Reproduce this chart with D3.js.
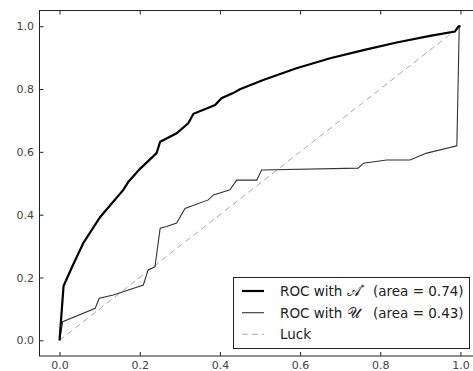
<!DOCTYPE html>
<html>
<head>
<meta charset="utf-8">
<script src="https://cdn.jsdelivr.net/npm/d3@7/dist/d3.min.js"></script>
<style>
  html, body { margin: 0; padding: 0; background: #fff; }
  svg { display: block; }
  .tick text { font-family: "DejaVu Sans", sans-serif; font-size: 11px; fill: #444; }
</style>
</head>
<body>
<script>
// ROC curve for the A* scores (false positive rate / true positive rate)
const fprA = [0, 0.01, 0.03, 0.059, 0.101, 0.159, 0.172, 0.2, 0.242, 0.251, 0.292, 0.321, 0.334, 0.388, 0.404, 0.433, 0.45, 0.508, 0.591, 0.675, 0.758, 0.841, 0.924, 0.986, 0.995, 1];
const tprA = [0, 0.173, 0.23, 0.309, 0.392, 0.479, 0.505, 0.545, 0.596, 0.632, 0.659, 0.691, 0.721, 0.749, 0.771, 0.787, 0.799, 0.829, 0.866, 0.898, 0.924, 0.948, 0.969, 0.983, 0.999, 1];

// ROC curve for the U scores
const fprU = [0, 0.008, 0.089, 0.099, 0.134, 0.209, 0.221, 0.238, 0.251, 0.267, 0.292, 0.313, 0.371, 0.384, 0.425, 0.442, 0.492, 0.504, 0.745, 0.758, 0.816, 0.874, 0.916, 0.991, 0.997, 1];
const tprU = [0, 0.059, 0.102, 0.134, 0.144, 0.176, 0.224, 0.234, 0.357, 0.362, 0.373, 0.42, 0.447, 0.463, 0.479, 0.51, 0.51, 0.542, 0.548, 0.564, 0.574, 0.574, 0.596, 0.619, 1.0, 1];

// Chance diagonal
const fprLuck = [0, 1];
const tprLuck = [0, 1];

const xTicks = [0.0, 0.2, 0.4, 0.6, 0.8, 1.0];
const yTicks = [0.0, 0.2, 0.4, 0.6, 0.8, 1.0];

const areaA = 0.74;
const areaU = 0.43;

const W = 473, H = 371;
const svg = d3.select("body").append("svg").attr("width", W).attr("height", H);

const x = d3.scaleLinear().domain([-0.05, 1.05]).range([39.5, 480.5]);
const y = d3.scaleLinear().domain([-0.05, 1.05]).range([356, 10.5]);

const line = d3.line().x(d => x(d[0])).y(d => y(d[1]));

// frame
svg.append("rect")
  .attr("x", x(-0.05)).attr("y", y(1.05))
  .attr("width", x(1.05) - x(-0.05)).attr("height", y(-0.05) - y(1.05))
  .attr("fill", "none").attr("stroke", "#222").attr("stroke-width", 1);

// axes with inward ticks on all four sides
const fmt = d3.format(".1f");
svg.append("g").attr("transform", `translate(0,${y(-0.05)})`)
  .call(d3.axisBottom(x).tickValues(xTicks).tickFormat(fmt).tickSizeInner(-4).tickSizeOuter(0).tickPadding(5))
  .call(g => g.select(".domain").remove())
  .call(g => g.selectAll(".tick line").attr("stroke", "#222"));
svg.append("g").attr("transform", `translate(0,${y(1.05)})`)
  .call(d3.axisTop(x).tickValues(xTicks).tickFormat("").tickSizeInner(-4).tickSizeOuter(0))
  .call(g => g.select(".domain").remove())
  .call(g => g.selectAll(".tick line").attr("stroke", "#222"));
svg.append("g").attr("transform", `translate(${x(-0.05)},0)`)
  .call(d3.axisLeft(y).tickValues(yTicks).tickFormat(fmt).tickSizeInner(-4).tickSizeOuter(0).tickPadding(5.5))
  .call(g => g.select(".domain").remove())
  .call(g => g.selectAll(".tick line").attr("stroke", "#222"));

// curves
svg.append("path").datum(d3.zip(fprLuck, tprLuck)).attr("d", line)
  .attr("fill", "none").attr("stroke", "#aaa").attr("stroke-width", 1).attr("stroke-dasharray", "6,4");
svg.append("path").datum(d3.zip(fprU, tprU)).attr("d", line)
  .attr("fill", "none").attr("stroke", "#333").attr("stroke-width", 1.1);
svg.append("path").datum(d3.zip(fprA, tprA)).attr("d", line)
  .attr("fill", "none").attr("stroke", "#000").attr("stroke-width", 2.2);

// legend
const leg = svg.append("g");
leg.append("rect").attr("x", 233.5).attr("y", 277.5).attr("width", 236).attr("height", 71)
  .attr("fill", "#fff").attr("stroke", "#222").attr("stroke-width", 1);

const entries = [
  { name: "A", area: areaA, stroke: "#000", w: 2.2, dash: null, y: 291 },
  { name: "U", area: areaU, stroke: "#333", w: 1.1, dash: null, y: 312.7 },
  { name: "Luck", area: null, stroke: "#aaa", w: 1, dash: "6,4", y: 334.3 }
];
const fs = 13.5;
entries.forEach(e => {
  leg.append("line").attr("x1", 242).attr("x2", 264).attr("y1", e.y).attr("y2", e.y)
    .attr("stroke", e.stroke).attr("stroke-width", e.w).attr("stroke-dasharray", e.dash);
  const t = leg.append("text").attr("x", 280).attr("y", e.y + 5)
    .attr("font-family", "DejaVu Sans, sans-serif").attr("font-size", fs).attr("fill", "#222");
  if (e.area === null) {
    t.text(e.name);
  } else {
    t.append("tspan").text("ROC with ");
    t.append("tspan").attr("font-size", fs + 1).text(e.name === "A" ? "𝒜" : "𝒰");
    if (e.name === "A") t.append("tspan").attr("font-size", 8).attr("dy", -5).text("*");
    leg.append("text").attr("x", 373).attr("y", e.y + 5)
      .attr("font-family", "DejaVu Sans, sans-serif").attr("font-size", fs).attr("fill", "#222")
      .text(`(area = ${e.area.toFixed(2)})`);
  }
});
</script>
</body>
</html>
